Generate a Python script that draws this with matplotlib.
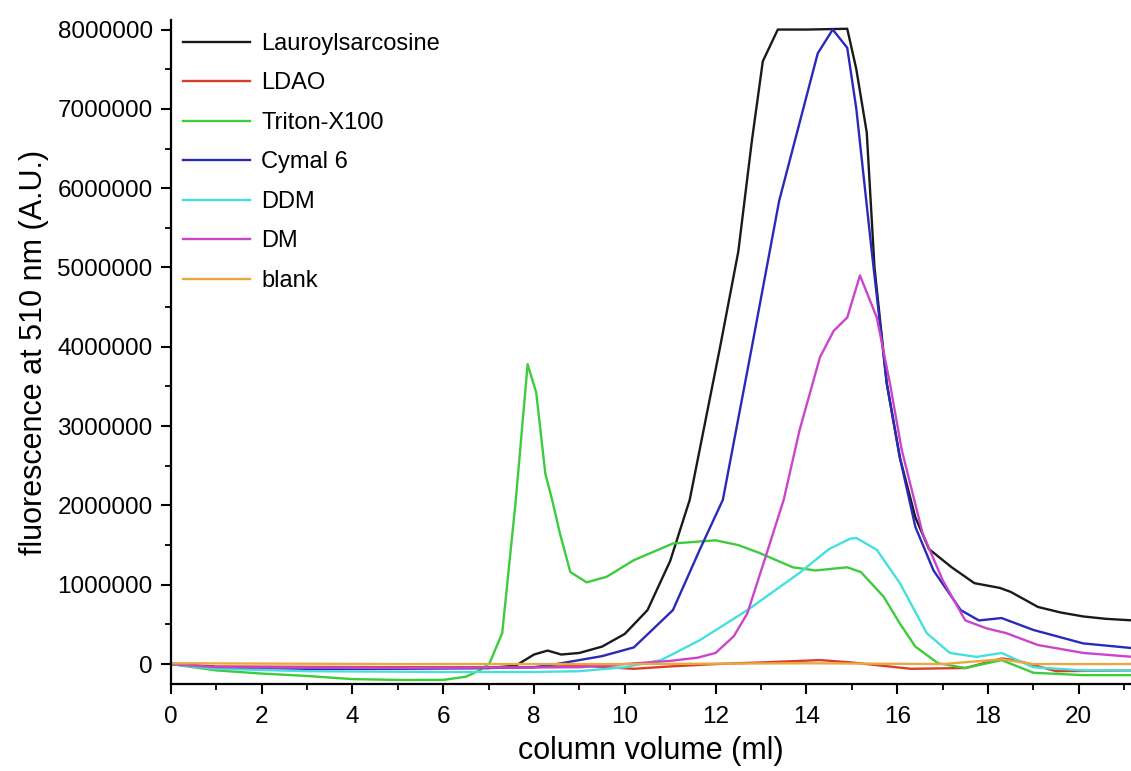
# plot.py - SEC fluorescence traces for detergent screen

import numpy as np
import matplotlib
matplotlib.use("Agg")
import matplotlib.pyplot as plt
from matplotlib.ticker import MultipleLocator, FuncFormatter

OUTPUT_PATH = "out.png"

labels = ["Lauroylsarcosine", "LDAO", "Triton-X100", "Cymal 6", "DDM", "DM", "blank"]
colors = ["#1a1a1a", "#d8402c", "#3ccc3c", "#2a2ab8", "#44e0e0", "#cc44cc", "#eaa840"]

# column volume (ml) / fluorescence (millions A.U.)
lauroyl_x = [0, 0.5, 1, 3, 5, 7, 7.6, 8.0, 8.3, 8.6, 9.0, 9.5, 10.0, 10.5, 11.0, 11.43, 12.1,
             12.5, 12.8, 13.04, 13.37, 14.0, 14.9, 15.1, 15.33, 15.5, 15.77, 16.06, 16.4, 16.7,
             17.2, 17.7, 18.26, 18.5, 19.1, 19.6, 20.1, 20.6, 21.2]
lauroyl_y = [0, -0.03, -0.05, -0.05, -0.05, -0.05, -0.02, 0.12, 0.17, 0.12, 0.14, 0.22, 0.38,
             0.68, 1.3, 2.07, 4.0, 5.2, 6.6, 7.6, 8.0, 8.0, 8.01, 7.5, 6.7, 5.0, 3.54, 2.6, 1.85,
             1.45, 1.22, 1.02, 0.96, 0.91, 0.72, 0.65, 0.6, 0.57, 0.55]

ldao_x = [0, 1, 5, 8, 9, 10.2, 11, 12, 13, 14.3, 15, 16.3, 17.5, 18.3, 18.6, 19.5, 21.2]
ldao_y = [0, -0.03, -0.04, -0.04, -0.02, -0.06, -0.03, 0.0, 0.02, 0.05, 0.02, -0.06, -0.05,
          0.07, 0.05, -0.09, -0.08]

triton_x = [0, 1, 2, 3, 4, 5, 6, 6.5, 6.8, 7.02, 7.3, 7.6, 7.86, 8.05, 8.25, 8.4, 8.57, 8.8,
            9.16, 9.6, 10.2, 11.06, 12.0, 12.5, 12.97, 13.7, 14.2, 14.9, 15.2, 15.7, 16.06,
            16.4, 16.9, 17.5, 18.3, 19.0, 20.1, 21.2]
triton_y = [0, -0.08, -0.12, -0.15, -0.19, -0.2, -0.2, -0.16, -0.08, 0.01, 0.39, 2.07, 3.78,
            3.42, 2.4, 2.07, 1.65, 1.16, 1.03, 1.1, 1.31, 1.52, 1.56, 1.5, 1.4, 1.22, 1.18,
            1.22, 1.16, 0.85, 0.51, 0.22, 0.01, -0.05, 0.05, -0.11, -0.14, -0.14]

cymal_x = [0, 1, 3, 5, 7, 8, 8.5, 9.0, 9.5, 10.2, 11.06, 11.65, 12.16, 12.8, 13.4, 14.25,
           14.58, 14.9, 15.1, 15.44, 15.77, 16.06, 16.4, 16.8, 17.4, 17.8, 18.3, 19.0, 20.1, 21.2]
cymal_y = [0, -0.04, -0.06, -0.06, -0.05, -0.04, 0.0, 0.05, 0.1, 0.21, 0.68, 1.44, 2.07, 4.0,
           5.84, 7.7, 8.0, 7.77, 7.0, 5.2, 3.54, 2.6, 1.73, 1.18, 0.68, 0.55, 0.58, 0.43, 0.26, 0.2]

ddm_x = [0, 1, 3, 6, 8, 9, 10, 10.8, 11.65, 12.7, 13.85, 14.5, 14.96, 15.1, 15.55, 16.06,
         16.65, 17.16, 17.75, 18.3, 19.0, 20.1, 21.2]
ddm_y = [0, -0.06, -0.09, -0.1, -0.1, -0.09, -0.04, 0.05, 0.3, 0.68, 1.15, 1.45, 1.58, 1.59,
         1.44, 1.02, 0.39, 0.14, 0.09, 0.14, -0.04, -0.08, -0.08]

dm_x = [0, 1, 5, 9, 10, 11, 11.6, 12.0, 12.4, 12.7, 13.1, 13.5, 13.85, 14.3, 14.6, 14.9, 15.18,
        15.55, 15.84, 16.1, 16.56, 17.0, 17.5, 17.97, 18.4, 19.1, 20.1, 21.2]
dm_y = [0, -0.04, -0.05, -0.04, 0.0, 0.04, 0.08, 0.14, 0.35, 0.64, 1.35, 2.07, 2.95, 3.87, 4.2,
        4.37, 4.9, 4.37, 3.54, 2.7, 1.65, 1.06, 0.55, 0.45, 0.39, 0.24, 0.14, 0.09]

blank_x = [0, 5, 10, 14, 17, 18.3, 19, 21.2]
blank_y = [0.01, 0.0, 0.0, 0.01, 0.0, 0.06, 0.0, 0.0]

series = [(lauroyl_x, lauroyl_y), (ldao_x, ldao_y), (triton_x, triton_y), (cymal_x, cymal_y),
          (ddm_x, ddm_y), (dm_x, dm_y), (blank_x, blank_y)]


def main():
    plt.rcParams["font.family"] = ["Liberation Sans", "DejaVu Sans"]

    fig = plt.figure(figsize=(11.31, 7.71), dpi=100)
    ax = fig.add_axes([0.151, 0.113, 0.849, 0.861])

    for (xs, ys), label, color in zip(series, labels, colors):
        ax.plot(xs, np.array(ys) * 1e6, color=color, linewidth=1.7, label=label)

    ax.set_xlim(0, 21.15)
    ax.set_ylim(-250000, 8120000)

    ax.xaxis.set_major_locator(MultipleLocator(2))
    ax.xaxis.set_minor_locator(MultipleLocator(1))
    ax.yaxis.set_major_locator(MultipleLocator(1000000))
    ax.yaxis.set_minor_locator(MultipleLocator(500000))
    ax.yaxis.set_major_formatter(FuncFormatter(lambda v, p: f"{int(round(v))}"))

    for side in ["top", "right"]:
        ax.spines[side].set_visible(False)
    for side in ["left", "bottom"]:
        ax.spines[side].set_linewidth(1.6)

    ax.tick_params(which="major", direction="out", length=7, width=1.5, labelsize=17.5)
    ax.tick_params(axis="y", which="major", pad=6)
    ax.tick_params(axis="x", which="major", pad=9)
    ax.tick_params(which="minor", direction="out", length=4, width=1.3)

    ax.set_xlabel("column volume (ml)", fontsize=22, labelpad=6)
    ax.set_ylabel("fluorescence at 510 nm (A.U.)", fontsize=22, labelpad=6)

    ax.legend(loc="upper left", bbox_to_anchor=(183 / 1131, 1 - 33 / 771),
              bbox_transform=fig.transFigure, frameon=False, fontsize=17,
              handlelength=2.82, handletextpad=0.5, labelspacing=0.74,
              borderpad=0, borderaxespad=0)

    plt.savefig(OUTPUT_PATH, dpi=100)
    print(f"Saved plot to {OUTPUT_PATH}")


if __name__ == "__main__":
    main()
